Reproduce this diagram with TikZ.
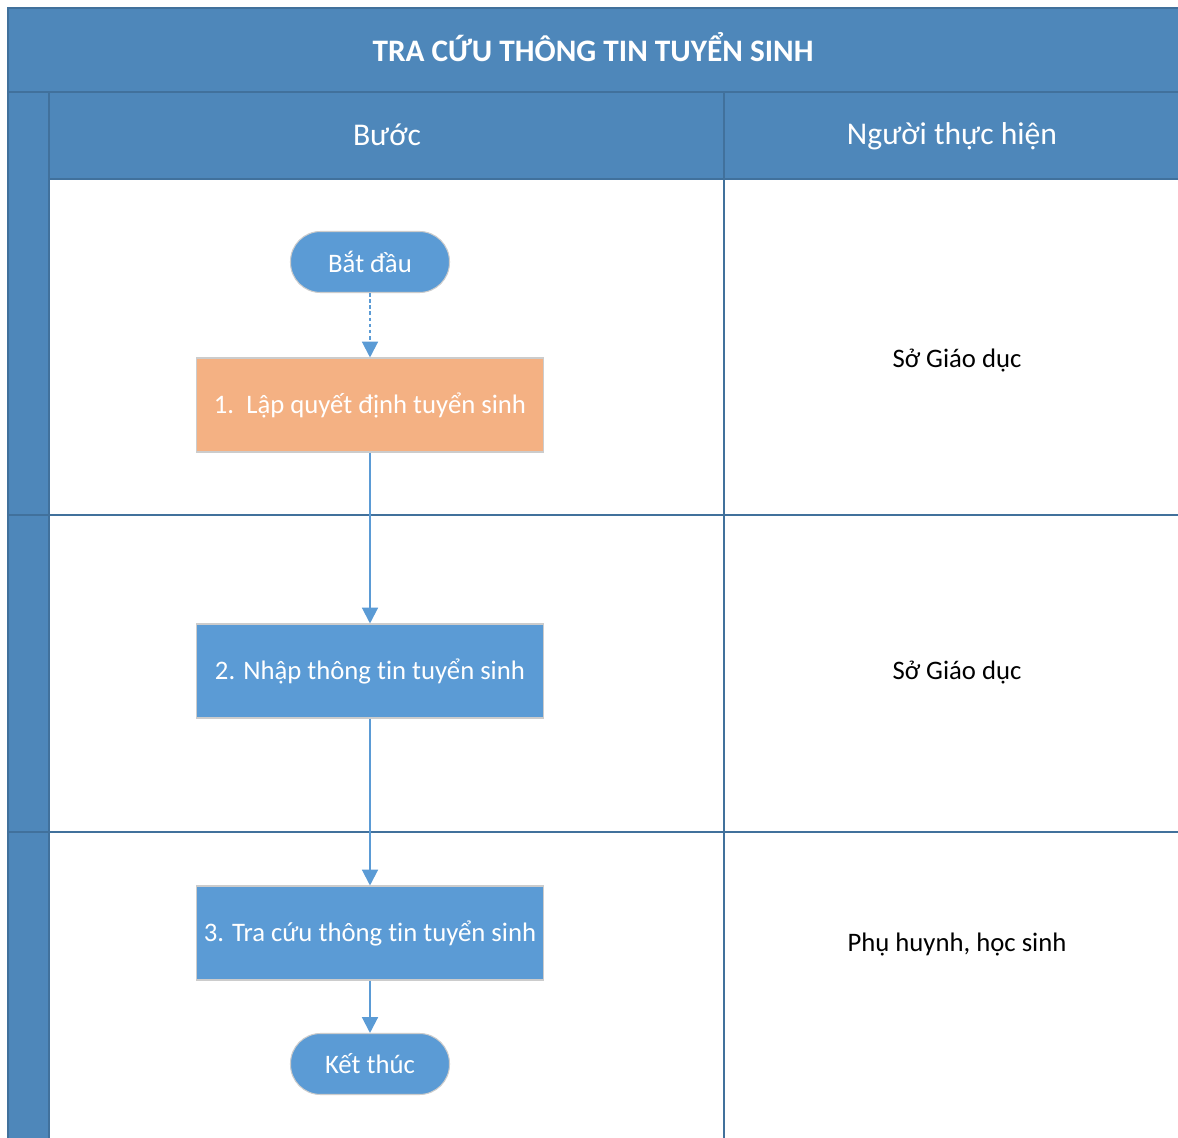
\documentclass[tikz,border=0pt]{standalone}
\usepackage{fontspec}
\setmainfont{Carlito}[Ligatures=NoCommon]
\usetikzlibrary{arrows.meta}

\definecolor{laneblue}{HTML}{4E87BA}
\definecolor{laneedge}{HTML}{41719C}
\definecolor{stepblue}{HTML}{5B9BD5}
\definecolor{steporange}{HTML}{F4B183}

\tikzset{
    lane/.style={fill=laneblue, draw=laneedge, line width=1.2pt},
    cell/.style={draw=laneedge, line width=1.2pt},
    terminal/.style={rectangle, rounded corners=0.6cm, fill=stepblue, draw=black!20, line width=0.6pt,
        minimum width=3.18cm, minimum height=1.22cm,
        text=white, font=\fontsize{15.2}{18}\selectfont},
    stepbox/.style={rectangle, fill=stepblue, draw=black!20, line width=0.6pt,
        minimum width=6.94cm, minimum height=1.88cm,
        text=white, font=\fontsize{15.2}{18}\selectfont},
    flow/.style={-{Triangle[length=9pt,width=9pt]}, draw=stepblue, line width=1.2pt},
    who/.style={font=\fontsize{15.2}{18}\selectfont},
    colhead/.style={text=white, font=\fontsize{18}{21}\selectfont}
}

\begin{document}
\begin{tikzpicture}[x=0.02cm, y=-0.02cm]
    \clip (0,0) rectangle (1178,1138);

    % Swimlane frame
    \fill[white] (0,0) rectangle (1178,1138);
    \draw[lane] (8,8) rectangle (1200,92);
    \draw[lane] (8,92) rectangle (49,1160);
    \draw[lane] (49,92) rectangle (1200,179);
    \draw[laneedge, line width=1.2pt] (724,92) -- (724,1160);
    \draw[cell] (8,515) -- (1200,515);
    \draw[cell] (8,832) -- (1200,832);

    % Headers
    \node[text=white, font=\bfseries\fontsize{17.8}{21}\selectfont] (title) at (593,47) {TRA CỨU THÔNG TIN TUYỂN SINH};
    \node[colhead] (colstep) at (387,135) {Bước};
    \node[colhead] (colwho) at (952,136) {Người thực hiện};

    % Steps
    \node[terminal] (start) at (370,262) {Bắt đầu};
    \node[stepbox, fill=steporange] (step1) at (370,405) {1.\ \ Lập quyết định tuyển sinh};
    \node[stepbox] (step2) at (370,671) {2. Nhập thông tin tuyển sinh};
    \node[stepbox] (step3) at (370,933) {3. Tra cứu thông tin tuyển sinh};
    \node[terminal] (finish) at (370,1064) {Kết thúc};

    % Performers
    \node[who] (who1) at (957,361) {Sở Giáo dục};
    \node[who] (who2) at (957,673) {Sở Giáo dục};
    \node[who] (who3) at (957,945) {Phụ huynh, học sinh};

    % Connectors
    \draw[flow, dash pattern=on 2pt off 1.5pt] (start) -- (step1);
    \draw[flow] (step1) -- (step2);
    \draw[flow] (step2) -- (step3);
    \draw[flow] (step3) -- (finish);
\end{tikzpicture}
\end{document}
